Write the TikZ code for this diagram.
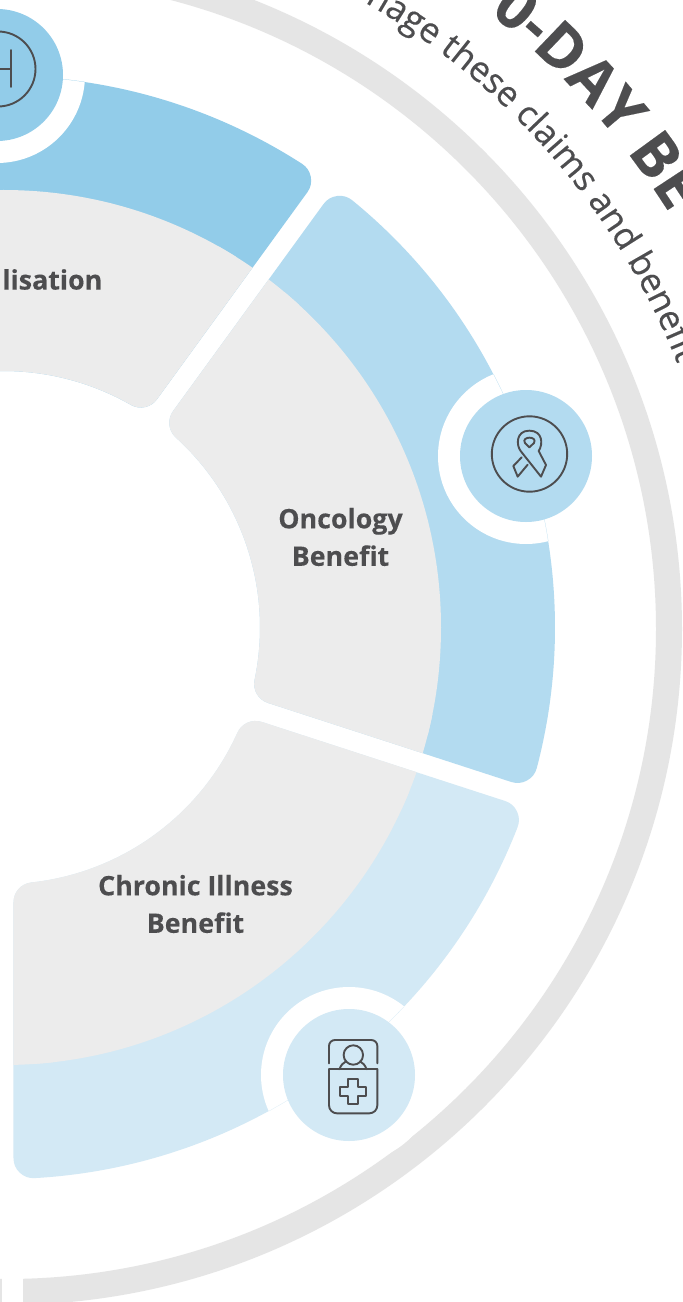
\documentclass[tikz,border=0pt]{standalone}
\usepackage{fontspec}
\setmainfont[BoldFeatures={FakeBold=0.2}]{Open Sans}
\newfontfamily\subfont[FakeBold=0.35]{Open Sans}
\usetikzlibrary{decorations.text}
\definecolor{ringgray}{HTML}{E5E5E5}
\definecolor{seggray}{HTML}{ECECEC}
\definecolor{blueA}{HTML}{92CCE9}
\definecolor{blueB}{HTML}{B3DBF0}
\definecolor{blueC}{HTML}{D3E9F5}
\definecolor{inkgray}{HTML}{4D4D4F}
\newcommand\segshape[3]{%
  \pgfmathsetmacro\aOut{#1-asin(30/531.5)}%
  \pgfmathsetmacro\bOut{#2+asin(30/531.5)}%
  \pgfmathsetmacro\aIn{#1-asin(30/276.5)}%
  \pgfmathsetmacro\bIn{#2+asin(30/276.5)}%
  \path[fill=#3,draw=#3,line width=40pt,line join=round]
    (\aOut:531.5) arc[start angle=\aOut,end angle=\bOut,radius=531.5]
    -- (\bIn:276.5) arc[start angle=\bIn,end angle=\aIn,radius=276.5] -- cycle;
  \begin{scope}
    \clip (0,0) circle[radius=437.5];
    \path[fill=seggray,draw=seggray,line width=40pt,line join=round]
      (\aOut:531.5) arc[start angle=\aOut,end angle=\bOut,radius=531.5]
      -- (\bIn:276.5) arc[start angle=\bIn,end angle=\aIn,radius=276.5] -- cycle;
  \end{scope}%
}
\newcommand\badge[3]{%
  \fill[white] (#1,#2) circle[radius=88];
  \begin{scope}
    \clip (#1,#2) circle[radius=88];
    \draw[#3,line width=0.2pt] (0,0) circle[radius=551.5];
  \end{scope}
  \fill[#3] (#1,#2) circle[radius=66];%
}
\tikzset{
  seglabel/.style={font=\bfseries\fontsize{26.8}{37.5}\selectfont,text=inkgray,align=center,inner sep=0pt},
  iconline/.style={draw=inkgray,line width=1.9pt,line join=round,line cap=round}
}
\begin{document}
\begin{tikzpicture}[x=1pt,y=1pt]
\useasboundingbox[fill=white] (-3.5,-674.5) rectangle (679.5,627.5);
% outer ring
\draw[ringgray,line width=26pt] (2.5,-1.5) circle[radius=663];
\fill[white] (-2,-674.5) rectangle (19.5,-640);
% segments
\segshape{126}{54}{blueA}
\segshape{54}{-18}{blueB}
\segshape{-18}{-90}{blueC}
% badges
\badge{-6.5}{552.5}{blueA}
\badge{522.5}{171.5}{blueB}
\badge{345.5}{-447.5}{blueC}
% labels
\node[seglabel,anchor=east] (hosp) at (99,348) {lisation};
\node[seglabel] (onc) at (337,90.5) {Oncology\\Benefit};
\node[seglabel] (chr) at (192,-276.5) {Chronic Illness\\Benefit};
% curved texts
\path[decorate,decoration={text along path,text color=inkgray,
   text={|\subfont\fontsize{35}{35}\selectfont|nage these claims and benefit}}]
   (2.5,-1.5) ++(60.2:722) arc[start angle=60.2,end angle=0,radius=722];
\path[decorate,decoration={text along path,text color=inkgray,
   text={|\bfseries\fontsize{61}{61}\selectfont|0-DAY BE}}]
   (2.5,-1.5) ++(51.9:783) arc[start angle=51.9,end angle=0,radius=783];
% icon 1 (top-left)
\begin{scope}[shift={(-3.5,627.5)},x=1pt,y=-1pt]
  \draw[iconline] (-2,69) circle[radius=37.5pt];
  \draw[iconline] (11,50) -- (11,87) (11,69) -- (-8,69);
\end{scope}
% ribbon icon
\begin{scope}[shift={(-3.5,627.5)},x=1pt,y=-1pt]
  \draw[iconline] (529.5,454) circle[radius=37.7pt];
\end{scope}
\begin{scope}[shift={(426.5,257.5)},x=0.33333pt,y=-0.33333pt]
  \draw[iconline] (275,262) -- (250,288) -- (263,320) -- (293,284);
  \draw[iconline] (348,285) -- (333,320) -- (272,243)
     .. controls (258,225) and (258,182) .. (298,182)
     .. controls (338,182) and (340,222) .. (326,243) -- (348,285);
  \draw[iconline] (298,232) -- (285,219)
     .. controls (278,208) and (290,203) .. (298,203)
     .. controls (308,203) and (318,208) .. (312,219) -- (298,232);
\end{scope}
% chronic icon
\begin{scope}[shift={(256.5,-352.5)},x=0.33333pt,y=-0.33333pt]
  \draw[iconline,rounded corners=6pt] (207,250) -- (207,180) -- (352,180) -- (352,250);
  \draw[iconline] (207,268) -- (352,268);
  \draw[iconline,rounded corners=8pt] (207,268) -- (207,400) -- (352,400) -- (352,268);
  \draw[iconline] (280,225) circle[radius=9.7pt];
  \draw[iconline] (238,268) .. controls (243,255) and (250,248) .. (258,244);
  \draw[iconline] (320,268) .. controls (315,255) and (308,248) .. (300,244);
  \draw[iconline] (265,297) -- (293,297) -- (293,320) -- (317,320) -- (317,349) -- (293,349) -- (293,373) -- (265,373) -- (265,349) -- (241,349) -- (241,320) -- (265,320) -- cycle;
\end{scope}
\end{tikzpicture}
\end{document}
